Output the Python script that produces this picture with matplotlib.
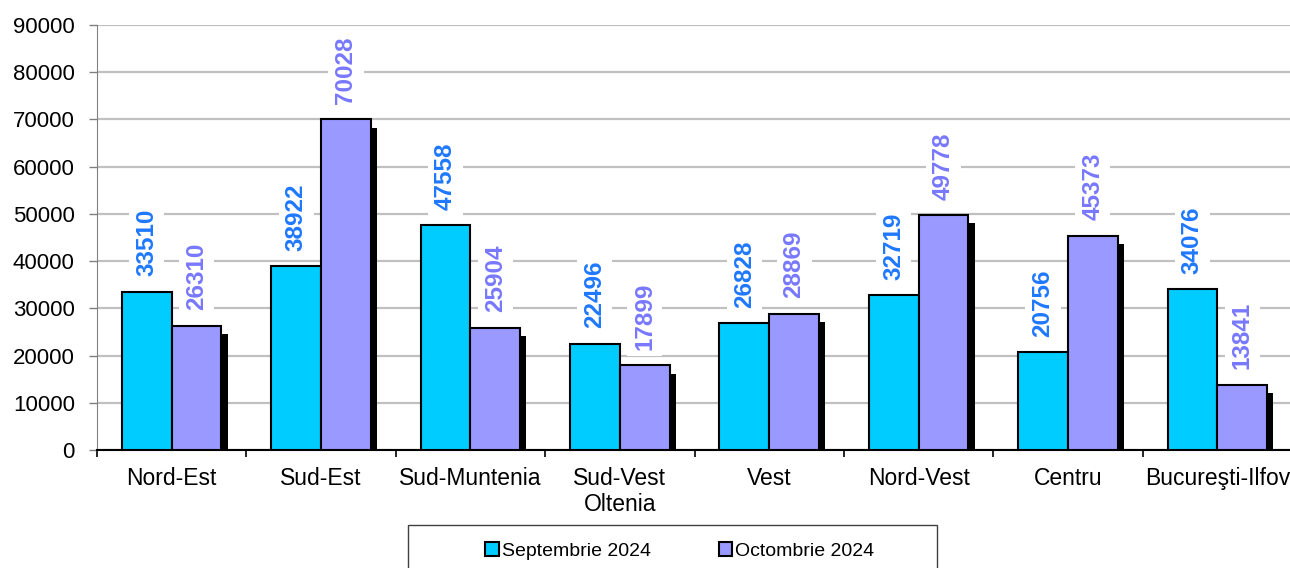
import matplotlib.pyplot as plt
import matplotlib.patheffects as pe
from matplotlib.patches import Rectangle, Patch
import numpy as np

plt.rcParams['font.family'] = ['Liberation Sans', 'DejaVu Sans']

regiuni = ["Nord-Est", "Sud-Est", "Sud-Muntenia", "Sud-Vest\nOltenia", "Vest",
           "Nord-Vest", "Centru", "Bucureşti-Ilfov"]
septembrie = [33510, 38922, 47558, 22496, 26828, 32719, 20756, 34076]
octombrie = [26310, 70028, 25904, 17899, 28869, 49778, 45373, 13841]
serii = ["Septembrie 2024", "Octombrie 2024"]
culori = ["#00CCFF", "#9999FF"]

fig = plt.figure(figsize=(12.9, 5.68), dpi=100)
ax = fig.add_axes([97 / 1290, 118 / 568, 1195 / 1290, 425 / 568])

x = np.arange(len(regiuni))
w = 1 / 3
umbra = [pe.SimplePatchShadow(offset=(4.5, -6), shadow_rgbFace='black', alpha=1), pe.Normal()]

b1 = ax.bar(x - w / 2, septembrie, w, color=culori[0], edgecolor="black", linewidth=1.5,
            zorder=3)
b2 = ax.bar(x + w / 2, octombrie, w, color=culori[1], edgecolor="black", linewidth=1.5,
            zorder=3, path_effects=umbra)

for bars, vals, col in [(b1, septembrie, "#1E78FF"), (b2, octombrie, "#7878FF")]:
    for b, v in zip(bars, vals):
        ax.annotate(str(v), (b.get_x() + b.get_width() / 2, v), xytext=(0, 11),
                    textcoords="offset points", rotation=90, ha="center", va="bottom",
                    fontsize=17.5, fontweight="bold", color=col, zorder=4,
                    bbox=dict(boxstyle="square,pad=0.25", fc="white", ec="none"))

ax.set_xlim(-0.5, len(regiuni) - 0.5)
ax.set_ylim(0, 90000)
ax.set_yticks(range(0, 90001, 10000))
ax.yaxis.grid(True, color="#C0C0C0", linewidth=1.6, zorder=0)
ax.set_axisbelow(True)

ax.set_xticks(x)
ax.set_xticklabels(regiuni, fontsize=16.5)
ax.set_xticks(np.arange(-0.5, len(regiuni)), minor=True)
ax.tick_params(axis="x", which="major", length=0, pad=12)
ax.tick_params(axis="x", which="minor", length=5, width=1.2, direction="out")
ax.tick_params(axis="y", labelsize=16, length=6, width=1, color="#808080", pad=10)

for s in ["top", "right"]:
    ax.spines[s].set_visible(False)
ax.spines["left"].set_color("#808080")
ax.spines["bottom"].set_linewidth(1.5)

# cadrul legendei
fig.patches.append(Rectangle((408 / 1290, -0.1), 529 / 1290, 0.1 + 43 / 568,
                             transform=fig.transFigure, fill=False, ec="#404040", lw=1))
h = [Patch(fc=c, ec="black", lw=1.5) for c in culori]
fig.legend(h, serii, loc="center", bbox_to_anchor=(0.527, 17 / 568), ncol=2,
           frameon=False, fontsize=14, handlelength=0.7, handleheight=0.7,
           handletextpad=0.15, columnspacing=3.5)

fig.savefig("out.png", dpi=100)
